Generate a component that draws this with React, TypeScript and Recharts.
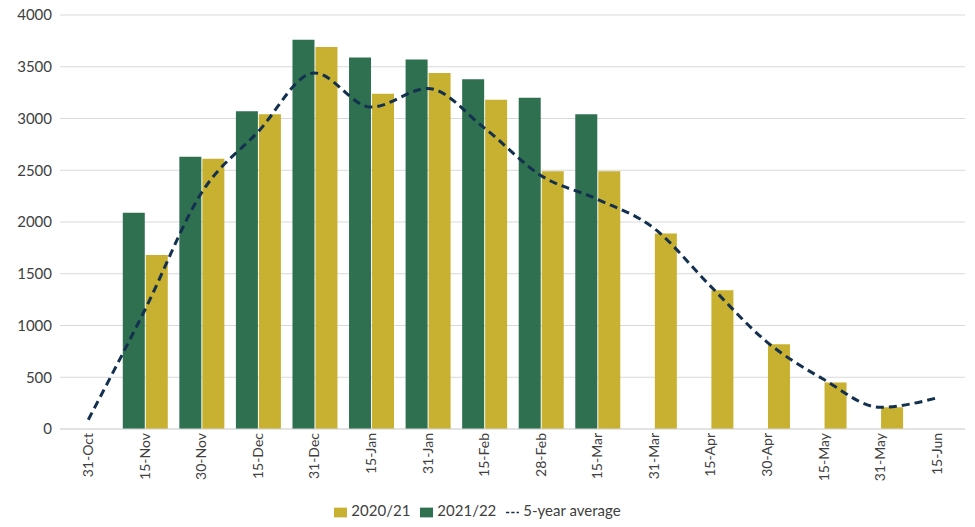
import { Bar, CartesianGrid, ComposedChart, Legend, Line, XAxis, YAxis } from "recharts";

const categories = ["31-Oct", "15-Nov", "30-Nov", "15-Dec", "31-Dec", "15-Jan", "31-Jan", "15-Feb", "28-Feb", "15-Mar", "31-Mar", "15-Apr", "30-Apr", "15-May", "31-May", "15-Jun"];
const season2122 = [null, 2090, 2630, 3070, 3760, 3590, 3570, 3380, 3200, 3040, null, null, null, null, null, null];
const season2021 = [null, 1680, 2610, 3040, 3690, 3240, 3440, 3180, 2490, 2490, 1890, 1340, 820, 450, 210, null];
const fiveYearAvg = [90, 1150, 2280, 2870, 3440, 3110, 3290, 2910, 2450, 2220, 1940, 1380, 840, 480, 210, 300];
const yTicks = [0, 500, 1000, 1500, 2000, 2500, 3000, 3500, 4000];

const data = categories.map((name, i) => ({
  name,
  a: season2122[i],
  b: season2021[i],
  avg: fiveYearAvg[i],
}));

const font = "Lato, 'Noto Sans', sans-serif";

export default function App() {
  return (
    <div style={{ margin: -8, fontFamily: font }}>
      <ComposedChart
        width={975}
        height={527}
        data={data}
        margin={{ top: 15, right: 10, left: 0, bottom: 2 }}
        barCategoryGap="11%"
        barGap={1}
      >
        <CartesianGrid vertical={false} stroke="#d9d9d9" />
        <XAxis
          dataKey="name"
          angle={-90}
          textAnchor="end"
          dy={-4}
          dx={-5}
          height={72}
          interval={0}
          tick={{ fill: "#404040", fontSize: 14, fontFamily: font }}
          stroke="#d9d9d9"
          tickLine={false}
        />
        <YAxis
          domain={[0, 4000]}
          ticks={yTicks}
          width={60}
          axisLine={false}
          tickLine={false}
          tick={{ fill: "#404040", fontSize: 15, fontFamily: font }}
        />
        <Legend
          verticalAlign="bottom"
          height={24}
          iconSize={13}
          wrapperStyle={{ fontSize: 15, color: "#404040", fontFamily: font }}
          formatter={(v) => <span style={{ color: "#404040" }}>{v}</span>}
        />
        <Bar dataKey="a" name="2021/22" fill="#2e7050" legendType="rect" isAnimationActive={false} />
        <Bar dataKey="b" name="2020/21" fill="#c8b030" legendType="rect" isAnimationActive={false} />
        <Line
          dataKey="avg"
          name="5-year average"
          type="monotone"
          stroke="#14304f"
          strokeWidth={3}
          strokeDasharray="8 5"
          dot={false}
          legendType="plainline"
          isAnimationActive={false}
        />
      </ComposedChart>
    </div>
  );
}
